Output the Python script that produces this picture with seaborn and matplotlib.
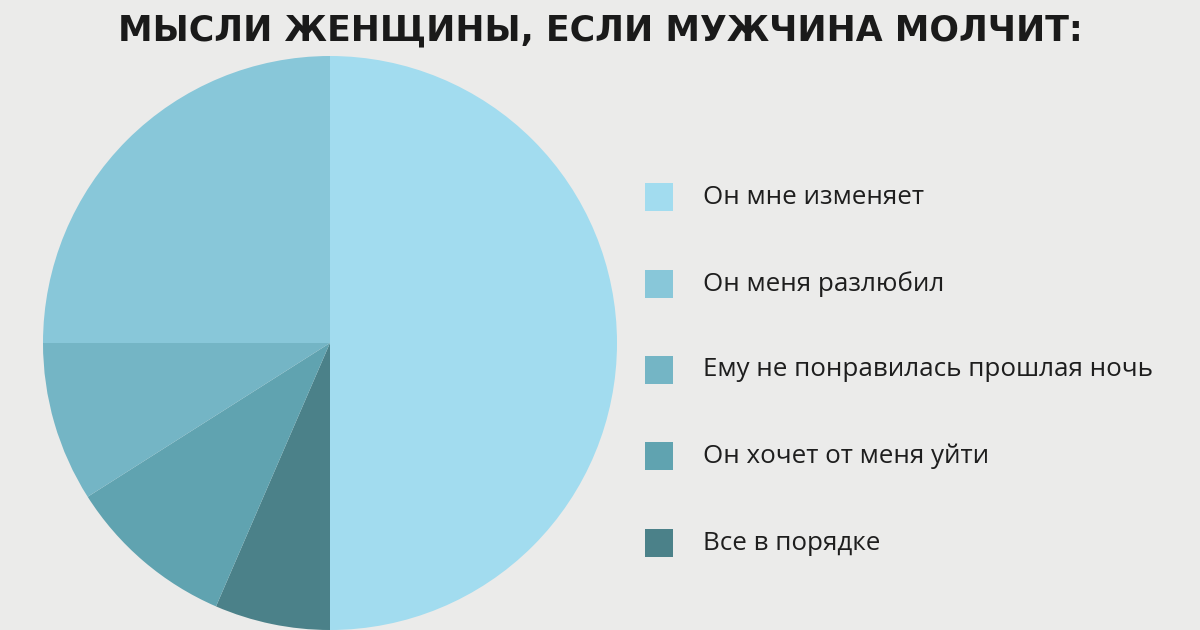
import matplotlib
matplotlib.use("Agg")
import matplotlib.pyplot as plt
import seaborn as sns
from matplotlib.patches import Rectangle

# --- данные ---
labels = ["Он мне изменяет", "Он меня разлюбил", "Ему не понравилась прошлая ночь",
          "Он хочет от меня уйти", "Все в порядке"]
shares = [50, 25, 9, 9.5, 6.5]
colors = ["#a2dcef", "#88c7d9", "#74b5c5", "#60a3b0", "#4b8189"]
title = "МЫСЛИ ЖЕНЩИНЫ, ЕСЛИ МУЖЧИНА МОЛЧИТ:"

# порядок по часовой стрелке от верха
pie_order = [0, 4, 3, 2, 1]

sns.set_theme(style="white")
plt.rcParams['font.family'] = ['Open Sans', 'DejaVu Sans']
bg = "#ebebea"

fig = plt.figure(figsize=(12, 6.3), dpi=100, facecolor=bg)
W, H = 1200, 630

# ось под круг: центр (330, 343), радиус 287 px
ax = fig.add_axes([43 / W, 0, 574 / W, 574 / H])
ax.set_facecolor(bg)
ax.pie([shares[i] for i in pie_order], colors=[colors[i] for i in pie_order],
       startangle=90, counterclock=False, radius=1,
       wedgeprops=dict(linewidth=0))
ax.set_xlim(-1, 1)
ax.set_ylim(-1, 1)
ax.set_aspect("equal")
ax.axis("off")

# заголовок
fig.text(0.5, 1 - 40 / H, title, ha="center", va="baseline",
         fontsize=25, fontweight="bold", family=['DejaVu Sans'],
         color="#1a1a1a")

# легенда
y_rows = [197, 284, 370, 456, 543]
for lab, col, y in zip(labels, colors, y_rows):
    fig.patches.append(Rectangle((645 / W, 1 - (y + 14) / H), 28 / W, 28 / H,
                                 transform=fig.transFigure, facecolor=col,
                                 edgecolor="none"))
    fig.text(703 / W, 1 - y / H, lab, ha="left", va="center",
             fontsize=18.7, color="#1e1e1e")

fig.savefig("out.png", dpi=100, facecolor=bg)
